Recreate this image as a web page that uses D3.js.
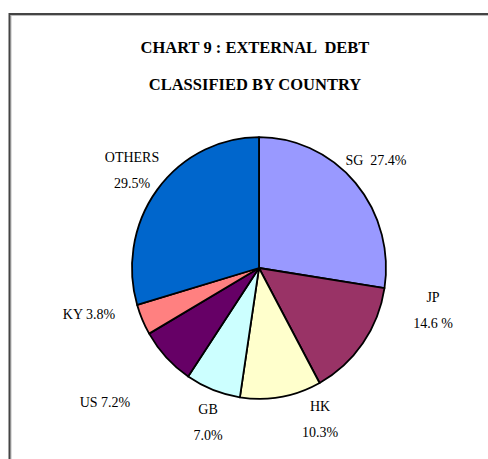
<!DOCTYPE html>
<html>
<head>
<meta charset="utf-8">
<script src="https://cdn.jsdelivr.net/npm/d3@7"></script>
<style>
  body { margin: 0; background: #fff; }
  svg { display: block; }
  text { font-family: "Liberation Serif", "Times New Roman", serif; fill: #000; white-space: pre; }
</style>
</head>
<body>
<svg id="chart"></svg>
<script>
const countries = ["SG", "JP", "HK", "GB", "US", "KY", "OTHERS"];
const shares = [27.4, 14.6, 10.3, 7.0, 7.2, 3.8, 29.5];
const shareLabels = ["27.4%", "14.6 %", "10.3%", "7.0%", "7.2%", "3.8%", "29.5%"];
const colors = ["#9999ff", "#993366", "#ffffcc", "#ccffff", "#660066", "#ff8080", "#0066cc"];
const titleLines = ["CHART 9 : EXTERNAL  DEBT", "CLASSIFIED BY COUNTRY"];

const width = 488;
const height = 459;
const cx = 259;
const cy = 268;
const radius = 127;
const squash = 1.03; // pie is drawn a bit taller than wide

// label placement (offset from the pie centre), two-line or one-line
const labelLayout = {
  SG: { dx: 117, dy: -108, lines: 1, sep: "  " },
  JP: { dx: 174, dy: 34, lines: 2 },
  HK: { dx: 61, dy: 143, lines: 2 },
  GB: { dx: -51, dy: 146, lines: 2 },
  US: { dx: -154, dy: 134, lines: 1, sep: " " },
  KY: { dx: -170, dy: 46, lines: 1, sep: " " },
  OTHERS: { dx: -127, dy: -106, lines: 2 }
};

const data = countries.map((c, i) => ({ country: c, value: shares[i], label: shareLabels[i], color: colors[i] }));

const svg = d3.select("#chart").attr("width", width).attr("height", height);

// frame
svg.append("path")
  .attr("d", `M11,${height + 5} V15.5 H${width + 5}`)
  .attr("fill", "none")
  .attr("stroke", "#bbb")
  .attr("stroke-width", 1);
svg.append("path")
  .attr("d", `M9.5,${height + 5} V14 H${width + 5}`)
  .attr("fill", "none")
  .attr("stroke", "#444")
  .attr("stroke-width", 2);

svg.selectAll("text.title")
  .data(titleLines)
  .join("text")
  .attr("class", "title")
  .attr("x", 255)
  .attr("y", (d, i) => 53 + i * 37)
  .attr("text-anchor", "middle")
  .attr("font-weight", "bold")
  .attr("font-size", 16.5)
  .text(d => d);

const pie = d3.pie()
  .value(d => d.value)
  .sort(null);

const arc = d3.arc()
  .innerRadius(0)
  .outerRadius(radius);

const arcs = pie(data);

const gPie = svg.append("g")
  .attr("transform", `translate(${cx} ${cy}) scale(1 ${squash})`);

gPie.selectAll("path")
  .data(arcs)
  .join("path")
  .attr("d", arc)
  .attr("fill", d => d.data.color)
  .attr("stroke", "#000")
  .attr("stroke-width", 1.8)
  .attr("vector-effect", "non-scaling-stroke")
  .attr("stroke-linejoin", "round");

const gLabels = svg.append("g")
  .attr("transform", `translate(${cx} ${cy})`);

arcs.forEach(a => {
  const d = a.data;
  const lay = labelLayout[d.country];
  const t = gLabels.append("text")
    .attr("x", lay.dx)
    .attr("y", lay.dy)
    .attr("text-anchor", "middle")
    .attr("font-size", 14);
  if (lay.lines === 2) {
    t.append("tspan").attr("x", lay.dx).attr("dy", 0).text(d.country);
    t.append("tspan").attr("x", lay.dx).attr("dy", 26).text(d.label);
  } else {
    t.attr("dy", "0.35em").text(d.country + lay.sep + d.label);
  }
});
</script>
</body>
</html>
